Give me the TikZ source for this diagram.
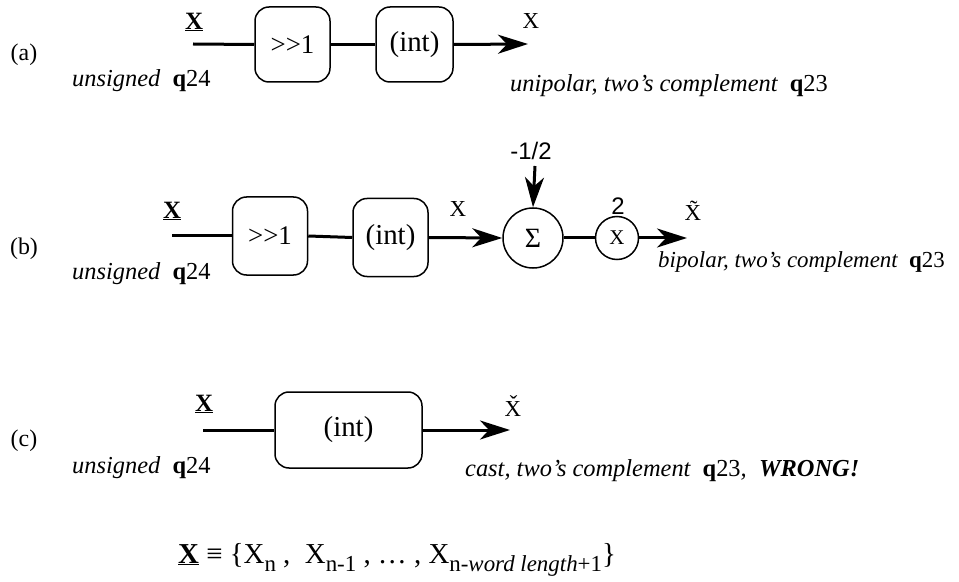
\documentclass[tikz,border=0pt]{standalone}
\usepackage{fontspec}
\setmainfont{Liberation Serif}
\newfontfamily\sansf{Liberation Sans}
\usetikzlibrary{arrows.meta}
\newcommand\fsub[1]{\raisebox{-0.3em}{\fontsize{23}{23}\selectfont #1}}
\newcommand\qq[1]{{\upshape\textbf{q}#1}}
\begin{document}
\begin{tikzpicture}[x=1bp,y=-1bp,
  blk/.style={draw, line width=1.5bp, rounded corners=14bp, inner sep=0pt, font=\fontsize{29}{29}\selectfont},
  rnd/.style={draw, circle, line width=1.5bp, inner sep=0pt},
  sig/.style={line width=3bp},
  arr/.style={line width=3bp, -{Stealth[length=30bp,width=19bp,inset=9bp]}},
  lab/.style={font=\fontsize{24}{24}\selectfont},
  note/.style={anchor=base west, inner sep=0pt, font=\fontsize{24.5}{24.5}\selectfont\itshape},
  vx/.style={font=\fontsize{23}{23}\selectfont, inner sep=0pt},
  ux/.style={font=\fontsize{25}{25}\selectfont\bfseries, inner sep=0pt},
  sn/.style={font=\fontsize{24}{24}\selectfont\sansf, inner sep=0pt}
]
\useasboundingbox[fill=white] (0,0) rectangle (959,582);

% ---- (a)
\node[lab] (la) at (24,55) {(a)};
\node[ux] (ax) at (194,22) {\underline{X}};
\coordinate (ain) at (193,44);
\node[blk, minimum width=75bp, minimum height=75bp] (a1) at (292.5,44.5) {\fontsize{27}{27}\selectfont >{}>1};
\node[blk, minimum width=77bp, minimum height=75bp] (a2) at (414.5,44.5) {(int)};
\coordinate (aout) at (528,44);
\draw[sig] (ain) -- (a1.west);
\draw[sig] (a1.east) -- (a2.west);
\draw[arr] (a2.east) -- (aout);
\node[vx] (axo) at (531,21) {X};
\node[note] (an1) at (72,87) {unsigned\ \ \qq{24}};
\node[note] (an2) at (510,92) {unipolar, two’s complement\ \ \qq{23}};

% ---- (b)
\node[lab] (lb) at (24,249) {(b)};
\node[ux] (bx) at (172,211) {\underline{X}};
\coordinate (bin) at (172,236);
\node[blk, minimum width=75bp, minimum height=78bp] (b1) at (270,236) {\fontsize{27}{27}\selectfont >{}>1};
\node[blk, minimum width=75bp, minimum height=78bp] (b2) at (390.5,237.5) {(int)};
\node[rnd, minimum size=60bp, font=\fontsize{28}{28}\selectfont] (sum) at (533,238) {Σ};
\node[rnd, minimum size=43bp, font=\fontsize{21}{21}\selectfont] (mul) at (617,238) {X};
\coordinate (bm) at (535,166);
\coordinate (bout) at (687,238);
\draw[sig] (bin) -- (b1.west);
\draw[sig] (b1.east) -- (b2.west);
\draw[arr] (b2.east) -- (sum.west);
\draw[arr] (bm) -- (sum.north);
\draw[sig] (sum.east) -- (mul.west);
\draw[arr] (mul.east) -- (bout);
\node[vx] (bxo) at (458,209) {X};
\node[sn] (bh) at (531,151) {-1/2};
\node[sn] (b2l) at (618,206) {2};
\node[vx] (bxt) at (693,211) {\~{X}};
\node[note] (bn1) at (72,280) {unsigned\ \ \qq{24}};
\node[note, font=\fontsize{23}{23}\selectfont\itshape] (bn2) at (658,268) {bipolar, two’s complement\ \ \qq{23}};

% ---- (c)
\node[lab] (lc) at (24,441) {(c)};
\node[ux] (cx) at (204,404) {\underline{X}};
\coordinate (cin) at (203,430);
\node[blk, minimum width=147bp, minimum height=76bp] (c1) at (348.5,430) {(int)};
\coordinate (cout) at (510,430);
\draw[sig] (cin) -- (c1.west);
\draw[arr] (c1.east) -- (cout);
\node[vx] (cxo) at (513,406) {\v{X}};
\node[note] (cn1) at (72,473) {unsigned\ \ \qq{24}};
\node[note] (cn2) at (465,476) {cast, two’s complement\ \ \qq{23},\ \ \textbf{WRONG!}};

% ---- formula
\node[anchor=base west, inner sep=0pt, font=\fontsize{29}{29}\selectfont] (frm) at (178,563)
  {\textbf{\underline{X}} ≡ \{X\fsub{n} ,\ \ X\fsub{n-1} , … , X\fsub{n-\textit{word length}+1}\}};
\end{tikzpicture}
\end{document}
